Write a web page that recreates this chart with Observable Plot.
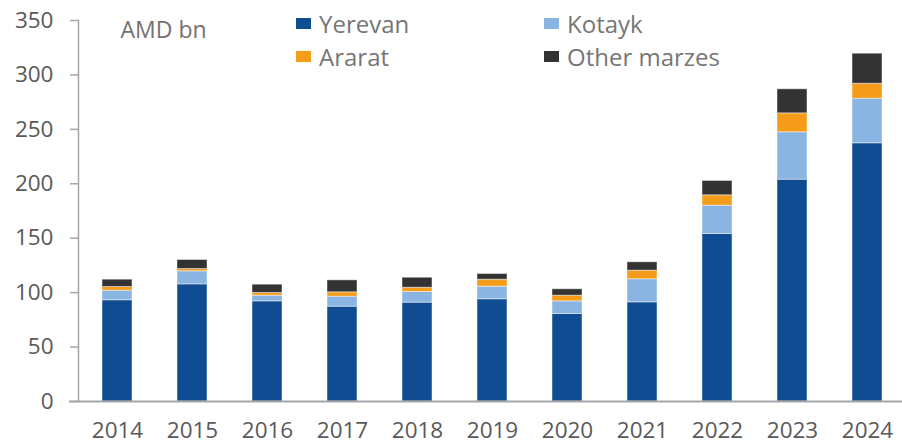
<!DOCTYPE html>
<html><head><meta charset="utf-8">
<script src="https://cdn.jsdelivr.net/npm/d3@7"></script>
<script src="https://cdn.jsdelivr.net/npm/@observablehq/plot@0.6"></script>
<style>
body{margin:0;background:#fff;font-family:"Open Sans",sans-serif;}
#wrap{position:relative;width:902px;height:445px;}
#legend{position:absolute;left:296px;top:9px;display:grid;grid-template-columns:248px 200px;row-gap:5px;font-size:24px;color:#767676;}
#legend .it{display:flex;align-items:center;height:28px;white-space:nowrap;}
#legend .sw{width:15px;height:11px;margin-right:8px;display:inline-block;}
</style></head>
<body><div id="wrap"><div id="legend"></div></div>
<script>
const years = ["2014","2015","2016","2017","2018","2019","2020","2021","2022","2023","2024"];
const seriesNames = ["Yerevan","Kotayk","Ararat","Other marzes"];
const seriesColors = ["#104C91","#8AB4E2","#F59C1A","#333333"];
const yerevan = [93.0,107.6,92.0,87.1,90.8,93.9,80.4,91.1,153.9,203.8,237.2];
const kotayk  = [8.8,12.0,5.2,9.2,9.8,11.6,11.6,21.2,26.0,43.5,41.0];
const ararat  = [3.4,2.1,2.5,4.0,3.9,6.4,5.2,7.9,9.5,17.4,13.7];
const other   = [6.7,8.3,7.6,11.0,9.2,5.2,5.9,7.7,13.2,22.1,27.6];
const yTicks = [0,50,100,150,200,250,300,350];
const unitLabel = "AMD bn";

const seriesValues = [yerevan, kotayk, ararat, other];
const rows = [];
seriesNames.forEach((s, i) => years.forEach((y, j) => rows.push({year: y, series: s, value: seriesValues[i][j]})));

const chart = Plot.plot({
  width: 902, height: 445,
  marginLeft: 78, marginRight: -4, marginTop: 20, marginBottom: 44,
  style: {fontFamily: "'Open Sans', sans-serif", fontSize: "22.5px", color: "#595959", background: "#fff"},
  x: {domain: years, paddingInner: 0.6, paddingOuter: 0.3, label: null},
  y: {domain: [0, 350], label: null},
  color: {domain: seriesNames, range: seriesColors},
  marks: [
    Plot.barY(rows, Plot.stackY({order: seriesNames}, {x: "year", y: "value", fill: "series", stroke: "#ffffff", strokeOpacity: 0.45, strokeWidth: 1})),
    Plot.axisY({ticks: yTicks, tickSize: 8, tickPadding: 17, stroke: "#a6a6a6", strokeWidth: 1.5, fill: "#595959", label: null}),
    Plot.frame({anchor: "left", stroke: "#a6a6a6", strokeWidth: 1.5}),
    Plot.axisX({tickSize: 0, tickPadding: 21, fill: "#595959", label: null}),
    Plot.ruleY([0], {stroke: "#a6a6a6", strokeWidth: 2, insetLeft: -9}),
    Plot.text([unitLabel], {frameAnchor: "top-left", dx: 42, dy: 1, lineAnchor: "top", textAnchor: "start", fill: "#767171", fontSize: 23})
  ]
});
const wrap = document.getElementById("wrap");
wrap.insertBefore(chart, wrap.firstChild);
const leg = document.getElementById("legend");
[0,1,2,3].forEach(i => {
  const d = document.createElement("div");
  d.className = "it";
  d.innerHTML = `<span class="sw" style="background:${seriesColors[i]}"></span>${seriesNames[i]}`;
  leg.appendChild(d);
});
</script></body></html>
